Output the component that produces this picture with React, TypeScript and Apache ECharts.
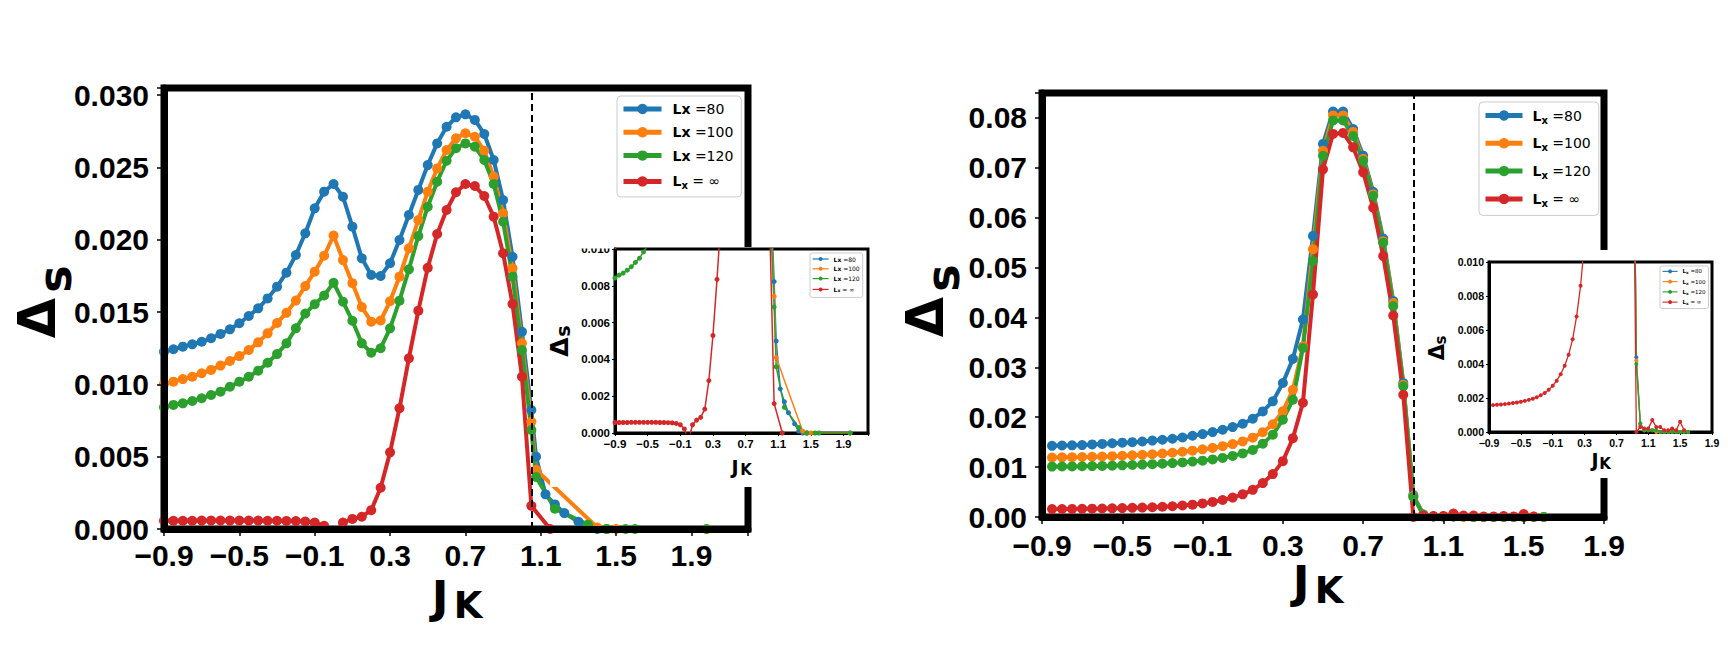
import React, { useEffect, useRef } from 'react';
import * as echarts from 'echarts';

// ---------------- DATA (left panel) ----------------
const leftX = [-0.9, -0.85, -0.8, -0.75, -0.7, -0.65, -0.6, -0.55, -0.5, -0.45, -0.4, -0.35, -0.3, -0.25, -0.2, -0.15, -0.1, -0.05, 0, 0.05, 0.1, 0.15, 0.2, 0.25, 0.3, 0.35, 0.4, 0.45, 0.5, 0.55, 0.6, 0.65, 0.7, 0.75, 0.8, 0.85, 0.9, 0.95, 1.0, 1.05];
const leftBlue = [0.01226, 0.01243, 0.01261, 0.01277, 0.01295, 0.01319, 0.01349, 0.01381, 0.01423, 0.01473, 0.01526, 0.01595, 0.01676, 0.01773, 0.01895, 0.02045, 0.02218, 0.02333, 0.02386, 0.02298, 0.02091, 0.01872, 0.01757, 0.0175, 0.01838, 0.01999, 0.02172, 0.02345, 0.02517, 0.02667, 0.02782, 0.02847, 0.02868, 0.02829, 0.02732, 0.02552, 0.02275, 0.01883, 0.01364, 0.00823];
const leftOrange = [0.01003, 0.01019, 0.01037, 0.01053, 0.01077, 0.011, 0.0113, 0.01162, 0.01196, 0.01238, 0.01291, 0.01353, 0.01425, 0.01495, 0.0158, 0.0168, 0.0178, 0.0189, 0.0203, 0.0186, 0.017, 0.01535, 0.01434, 0.01442, 0.01575, 0.01745, 0.01941, 0.02137, 0.02333, 0.02494, 0.02621, 0.02702, 0.02737, 0.02713, 0.02616, 0.02437, 0.02183, 0.01803, 0.01284, 0.00742];
const leftGreen = [0.00842, 0.00858, 0.00869, 0.00885, 0.00904, 0.00927, 0.0095, 0.00984, 0.01019, 0.01053, 0.01095, 0.0115, 0.0121, 0.01284, 0.01388, 0.0149, 0.01555, 0.01615, 0.01703, 0.01572, 0.0144, 0.01284, 0.01219, 0.0125, 0.01388, 0.01579, 0.01796, 0.02026, 0.02229, 0.02402, 0.02547, 0.02633, 0.02667, 0.02644, 0.02552, 0.02386, 0.02125, 0.01745, 0.01238, 0.00685];
const leftRed = [0.00057, 0.00057, 0.00057, 0.00057, 0.00058, 0.00058, 0.00058, 0.00058, 0.00058, 0.00058, 0.00058, 0.00057, 0.00057, 0.00056, 0.00055, 0.00052, 0.00045, 0.00022, -0.00045, 0.00045, 0.0007, 0.00085, 0.0013, 0.00285, 0.0053, 0.00835, 0.01181, 0.0151, 0.01807, 0.0204, 0.02206, 0.02329, 0.02386, 0.02372, 0.02303, 0.0216, 0.01907, 0.01556, 0.01053, 0.0016];
const leftBlueTailX = [1.075, 1.125, 1.175, 1.225, 1.3, 1.35, 1.4, 1.45];
const leftBlueTailY = [0.005, 0.0024, 0.0017, 0.0011, 0.0005, 0.0001, 0.0, 0.0];
const leftOrangeTailX = [1.075, 1.4, 1.45, 1.5, 1.98];
const leftOrangeTailY = [0.0041, 0.0001, 0.0, 0.0, 0.0];
const leftGreenTailX = [1.075, 1.175, 1.35, 1.45, 1.55, 1.6, 1.98];
const leftGreenTailY = [0.0036, 0.0014, 0.0003, 0.0, 0.0, 0.0, 0.0];
const leftRedTailX = [1.15];
const leftRedTailY = [0.0];
const leftCritical = 1.05;

// ---------------- DATA (right panel) ----------------
const rightX = [-0.85, -0.8, -0.75, -0.7, -0.65, -0.6, -0.55, -0.5, -0.45, -0.4, -0.35, -0.3, -0.25, -0.2, -0.15, -0.1, -0.05, 0, 0.05, 0.1, 0.15, 0.2, 0.25, 0.3, 0.35, 0.4, 0.45, 0.5, 0.55, 0.6, 0.65, 0.7, 0.75, 0.8, 0.85, 0.9, 0.95];
const rightBlue = [0.01427, 0.01433, 0.01437, 0.01442, 0.01455, 0.01465, 0.01478, 0.0149, 0.015, 0.01514, 0.01532, 0.01548, 0.01568, 0.01594, 0.01628, 0.01662, 0.01702, 0.01749, 0.01802, 0.01869, 0.0197, 0.02117, 0.02318, 0.02687, 0.0317, 0.0396, 0.05635, 0.0748, 0.08127, 0.08127, 0.07779, 0.07243, 0.06519, 0.05581, 0.04328, 0.02687, 0.0044];
const rightOrange = [0.01193, 0.01196, 0.012, 0.01203, 0.01208, 0.01213, 0.0122, 0.01228, 0.01236, 0.01246, 0.01258, 0.01272, 0.01288, 0.01308, 0.0133, 0.01356, 0.01385, 0.0142, 0.01462, 0.01515, 0.0159, 0.017, 0.0186, 0.0212, 0.0255, 0.0342, 0.0537, 0.0734, 0.0805, 0.0805, 0.0772, 0.0718, 0.0647, 0.0553, 0.0429, 0.0265, 0.0042];
const rightGreen = [0.0101, 0.01012, 0.01014, 0.01017, 0.0102, 0.01024, 0.01029, 0.01035, 0.01042, 0.0105, 0.01059, 0.01069, 0.01081, 0.01095, 0.01111, 0.0113, 0.01155, 0.01185, 0.01225, 0.01275, 0.01345, 0.0147, 0.0165, 0.0195, 0.0235, 0.0339, 0.0513, 0.0724, 0.0795, 0.0795, 0.0764, 0.0714, 0.0644, 0.055, 0.0423, 0.0262, 0.004];
const rightRed = [0.00158, 0.0016, 0.00162, 0.00164, 0.00167, 0.0017, 0.00174, 0.00178, 0.00183, 0.00189, 0.00196, 0.00205, 0.00216, 0.0023, 0.00248, 0.00272, 0.00302, 0.0034, 0.0039, 0.00455, 0.00545, 0.0068, 0.0086, 0.0112, 0.0158, 0.0229, 0.0446, 0.0697, 0.0768, 0.077, 0.0741, 0.0691, 0.062, 0.0523, 0.0404, 0.0245, 0.0];
const rightTailX = [1.0, 1.05, 1.1, 1.15, 1.2, 1.25, 1.3, 1.35, 1.4, 1.45, 1.5, 1.55, 1.6];
const rightBlueTail = [0.0005, 0.0001, 0.0001, 0.0001, 0.0001, 0.0, 0.0, 0.0, 0.0, 0.0, 0.0, 0.0, 0.0];
const rightOrangeTail = [0.0004, 0.0001, 0.0001, 0.0001, 0.0, 0.0, 0.0, 0.0, 0.0, 0.0, 0.0, 0.0001, 0.0];
const rightGreenTail = [0.0005, 0.0001, 0.0001, 0.0001, 0.0001, 0.0, 0.0, 0.0, 0.0, 0.0, 0.0, 0.0, 0.0];
const rightRedTailX = [1.0, 1.05, 1.1, 1.15, 1.2, 1.25, 1.3, 1.35, 1.4, 1.45, 1.5, 1.55];
const rightRedTail = [0.0003, 0.0002, 0.0002, 0.0007, 0.0003, 0.0003, 0.0001, 0.0001, 0.0002, 0.0001, 0.0006, 0.0001];
const rightCritical = 0.95;

// ---------------- labels ----------------
const SERIES_KEYS = ['80', '100', '120', 'inf'];
const LEGEND_PLAIN: Record<string, string> = {
  '80': '{b|Lx}{r| =80}',
  '100': '{b|Lx}{r| =100}',
  '120': '{b|Lx}{r| =120}',
  inf: '{b|L}{s|x}{r| = \u221e}',
};
const LEGEND_SUB: Record<string, string> = {
  '80': '{b|L}{s|x}{r| =80}',
  '100': '{b|L}{s|x}{r| =100}',
  '120': '{b|L}{s|x}{r| =120}',
  inf: '{b|L}{s|x}{r| = \u221e}',
};
const COLORS = ['#1f77b4', '#ff7f0e', '#2ca02c', '#d62728'];

const TICKFONT = "'Liberation Sans', Arial, sans-serif";
const SANS = "'DejaVu Sans', sans-serif";

function zip(xs: number[], ys: number[]) {
  return xs.map((x, i) => [x, ys[i]]);
}

const xFmt = (v: number) => {
  const k = Math.round((v + 0.9) / 0.4);
  if (Math.abs(v - (-0.9 + 0.4 * k)) > 1e-6 || v > 1.95) return '';
  return v.toFixed(1).replace('-', '\u2212');
};
const yFmt = (step: number, digits: number) => (v: number) => {
  const k = Math.round(v / step);
  if (Math.abs(v - k * step) > step * 1e-4) return '';
  return v.toFixed(digits);
};

function buildOption() {
  const leftSets = [
    zip(leftX, leftBlue).concat(zip(leftBlueTailX, leftBlueTailY)),
    zip(leftX, leftOrange).concat(zip(leftOrangeTailX, leftOrangeTailY)),
    zip(leftX, leftGreen).concat(zip(leftGreenTailX, leftGreenTailY)),
    zip(leftX, leftRed).concat(zip(leftRedTailX, leftRedTailY)),
  ];
  const rightSets = [
    zip(rightX, rightBlue).concat(zip(rightTailX, rightBlueTail)),
    zip(rightX, rightOrange).concat(zip(rightTailX, rightOrangeTail)),
    zip(rightX, rightGreen).concat(zip(rightTailX, rightGreenTail)),
    zip(rightX, rightRed).concat(zip(rightRedTailX, rightRedTail)),
  ];

  const grids = [
    { left: 164, top: 88, width: 584, height: 441, show: true, borderColor: '#000', borderWidth: 7, backgroundColor: 'rgba(0,0,0,0)', z: 1 },
    { left: 615, top: 249, width: 253, height: 184, show: true, borderColor: '#000', borderWidth: 3, backgroundColor: 'rgba(0,0,0,0)', z: 12 },
    { left: 1042, top: 93, width: 562, height: 424, show: true, borderColor: '#000', borderWidth: 7, backgroundColor: 'rgba(0,0,0,0)', z: 1 },
    { left: 1489, top: 262, width: 223, height: 170, show: true, borderColor: '#000', borderWidth: 3, backgroundColor: 'rgba(0,0,0,0)', z: 12 },
  ];

  const mkX = (gi: number, max: number, fs: number, lw: number, tl: number, margin: number, z: number) => ({
    type: 'value', gridIndex: gi, min: -0.9, max, interval: 0.4, z,
    axisLine: { show: true, onZero: false, lineStyle: { color: '#000', width: lw } },
    axisTick: { show: true, length: tl, lineStyle: { color: '#000', width: lw > 4 ? 1.5 : 1 } },
    axisLabel: { show: true, formatter: xFmt, fontSize: fs, fontFamily: TICKFONT, fontWeight: 'bold', color: '#000', margin },
    splitLine: { show: false },
  });
  const mkY = (gi: number, max: number, step: number, digits: number, fs: number, lw: number, tl: number, margin: number, z: number) => ({
    type: 'value', gridIndex: gi, min: 0, max, interval: step, z,
    axisLine: { show: true, onZero: false, lineStyle: { color: '#000', width: lw } },
    axisTick: { show: true, length: tl, lineStyle: { color: '#000', width: lw > 4 ? 1.5 : 1 } },
    axisLabel: { show: true, formatter: yFmt(step, digits), fontSize: fs, fontFamily: TICKFONT, fontWeight: 'bold', color: '#000', margin },
    splitLine: { show: false },
  });

  const xAxis = [
    mkX(0, 2.2, 30, 7, 7, 11, 5),
    mkX(1, 2.2, 11.5, 3, 3, 5, 13),
    mkX(2, 1.9, 30, 7, 7, 13, 5),
    mkX(3, 1.9, 10.5, 3, 3, 5, 13),
  ];
  const yAxis = [
    mkY(0, 0.0305, 0.005, 3, 30, 7, 7, 15, 5),
    mkY(1, 0.01, 0.002, 3, 11.5, 3, 3, 5, 13),
    mkY(2, 0.085, 0.01, 2, 30, 7, 7, 15, 5),
    mkY(3, 0.01, 0.002, 3, 10.5, 3, 3, 5, 13),
  ];

  const series: any[] = [];
  const addGroup = (prefix: string, sets: number[][][], axis: number, lw: number, sym: number, z: number, crit: number, dashW: number, dash: number[]) => {
    sets.forEach((data, i) => {
      const s: any = {
        type: 'line', name: prefix + SERIES_KEYS[i], xAxisIndex: axis, yAxisIndex: axis, data,
        symbol: 'circle', symbolSize: sym, showSymbol: true, showAllSymbol: true, clip: true, silent: true, z,
        lineStyle: { width: lw, color: COLORS[i] }, itemStyle: { color: COLORS[i] },
        emphasis: { disabled: true },
      };
      if (i === 3) {
        s.markLine = {
          silent: true, symbol: ['none', 'none'], animation: false,
          label: { show: false },
          lineStyle: { color: '#000', width: dashW, type: dash },
          data: [{ xAxis: crit }],
        };
      }
      series.push(s);
    });
  };
  addGroup('A', leftSets, 0, 4, 10, 2, leftCritical, 2, [7, 4]);
  addGroup('C', leftSets, 1, 1.5, 5, 14, leftCritical, 1, [3, 2]);
  addGroup('B', rightSets, 2, 4, 10, 2, rightCritical, 2, [7, 4]);
  addGroup('D', rightSets, 3, 1.3, 4, 14, rightCritical, 1, [3, 2]);

  const richBig = (padL: number) => ({
    b: { fontWeight: 'bold', fontSize: 14, fontFamily: SANS, lineHeight: 16, color: '#000', padding: [0, 0, 0, padL] },
    s: { fontWeight: 'bold', fontSize: 10, fontFamily: SANS, lineHeight: 16, color: '#000', padding: [9, 0, 0, 0] },
    r: { fontSize: 14, fontFamily: SANS, lineHeight: 16, color: '#000' },
  });
  const richSmall = (fs: number, lh: number) => ({
    b: { fontWeight: 'bold', fontSize: fs, fontFamily: SANS, lineHeight: lh, color: '#000' },
    s: { fontWeight: 'bold', fontSize: fs * 0.75, fontFamily: SANS, lineHeight: lh, color: '#000', padding: [fs * 0.5, 0, 0, 0] },
    r: { fontSize: fs, fontFamily: SANS, lineHeight: lh, color: '#000' },
  });
  const mkLegend = (prefix: string, labels: Record<string, string>, left: number, top: number, iw: number, ih: number, gap: number, pad: number[], rich: any, lw: number, z: number, radius: number) => ({
    show: true, orient: 'vertical', left, top, itemWidth: iw, itemHeight: ih, itemGap: gap, padding: pad,
    data: SERIES_KEYS.map((k) => prefix + k), selectedMode: false, z,
    backgroundColor: 'rgba(255,255,255,0.85)', borderColor: '#cccccc', borderWidth: 1, borderRadius: radius,
    formatter: (name: string) => labels[name.slice(1)],
    textStyle: { color: '#000', fontFamily: SANS, fontSize: rich.b.fontSize, rich },
    lineStyle: { width: lw },
  });
  const legend = [
    mkLegend('A', LEGEND_PLAIN, 617, 96, 38, 13, 9.3, [6, 8, 6, 4], richBig(6), 5, 4, 4),
    mkLegend('C', LEGEND_PLAIN, 810, 253, 16, 5, 3.8, [3, 3, 4, 2], richSmall(6, 7), 1.2, 16, 2),
    mkLegend('B', LEGEND_SUB, 1479, 102, 37, 13, 8.8, [4, 8, 7, 4], richBig(5), 5, 4, 4),
    mkLegend('D', LEGEND_SUB, 1660, 266, 15, 5, 3.5, [2, 3, 3, 2], richSmall(5.5, 6.5), 1.1, 16, 2),
  ];

  const txt = (text: string, x: number, y: number, size: number, rot = 0, weight = 'bold') => ({
    type: 'text', x, y, rotation: rot, z: 30, silent: true,
    style: {
      text, fill: '#000', fontSize: size, fontWeight: weight, fontFamily: SANS,
      align: 'center', verticalAlign: 'middle', textAlign: 'center', textVerticalAlign: 'middle',
    },
  });
  const R = Math.PI / 2;
  const graphic = [
    // white backgrounds of the pasted insets (they hide the main frames)
    { type: 'rect', z: 8, silent: true, shape: { x: 550, y: 247, width: 325, height: 240 }, style: { fill: '#fff' } },
    { type: 'rect', z: 8, silent: true, shape: { x: 1420, y: 250, width: 300, height: 228 }, style: { fill: '#fff' } },
    // crop of the top of the left inset
    { type: 'rect', z: 40, silent: true, shape: { x: 556, y: 232, width: 58, height: 16.5 }, style: { fill: '#fff' } },
    // axis titles: main left
    txt('\u0394', 37, 318, 52, R),
    txt('s', 55, 279, 46, R),
    txt('J', 440, 597, 45),
    txt('K', 468, 605, 37),
    // main right
    txt('\u0394', 925, 317, 52, R),
    txt('s', 943, 278, 46, R),
    txt('J', 1301, 582, 45),
    txt('K', 1329, 590, 37),
    // inset left
    txt('\u0394', 559, 347, 25, R),
    txt('s', 563, 331, 19, R),
    txt('J', 735, 467, 19),
    txt('K', 746, 470, 15),
    // inset right
    txt('\u0394', 1437, 352, 21, R),
    txt('s', 1441, 340, 15, R),
    txt('J', 1595, 460, 19),
    txt('K', 1605, 464, 15),
  ];

  return {
    animation: false,
    backgroundColor: '#fff',
    grid: grids,
    xAxis,
    yAxis,
    legend,
    series,
    graphic,
  };
}

export default function App() {
  const ref = useRef<HTMLDivElement>(null);
  useEffect(() => {
    if (!ref.current) return;
    const chart = echarts.init(ref.current, undefined, { renderer: 'svg' });
    chart.setOption(buildOption() as any);
    return () => chart.dispose();
  }, []);
  return (
    <div
      ref={ref}
      style={{ position: 'fixed', left: 0, top: 0, width: 1728, height: 660, background: '#fff' }}
    />
  );
}
